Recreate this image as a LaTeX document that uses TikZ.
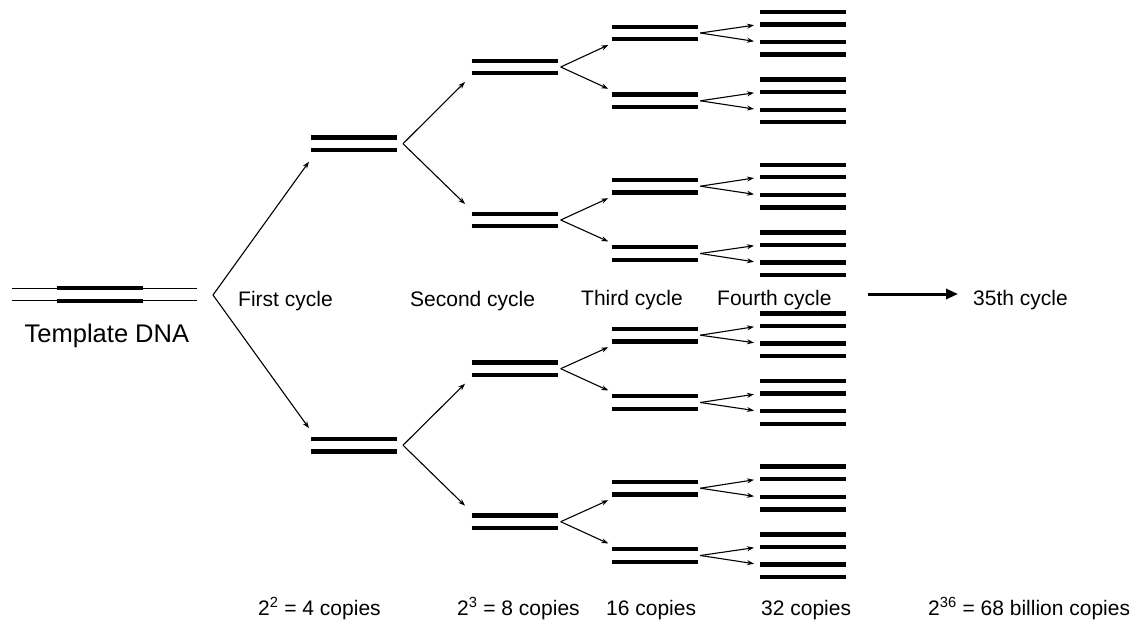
\documentclass[tikz,border=0pt]{standalone}
\usepackage{fontspec}
\setmainfont{Liberation Sans}
\usetikzlibrary{arrows.meta,calc}
\tikzset{
  pair/.style={minimum width=86pt, minimum height=12.5pt, inner sep=0pt, outer sep=0pt},
  bar/.style={line width=4.4pt},
  thinstrand/.style={line width=1.3pt},
  fork/.style={line width=1.1pt, -{Stealth[length=7pt,width=5pt]}},
  lbl/.style={anchor=base west, inner sep=0pt, font=\fontsize{21}{25}\selectfont},
  bigarrow/.style={line width=3pt, -{Triangle[length=12pt,width=10pt]}}
}
\newcommand\dnapair[2]{\node[pair] (#1) at (#2) {};
  \draw[bar] (#1.north west) -- (#1.north east) (#1.south west) -- (#1.south east);}
\begin{document}
\begin{tikzpicture}[x=1pt,y=-1pt]
\useasboundingbox (0,0) rectangle (1134,623);
% template
\dnapair{t}{99.5,294.5}
\draw[thinstrand] ($(t.north west)+(-45,0)$) -- ($(t.north east)+(54,0)$);
\draw[thinstrand] ($(t.south west)+(-45,0)$) -- ($(t.south east)+(54,0)$);
\node[anchor=base west, inner sep=0pt, font=\fontsize{25.5}{30}\selectfont] (tl) at (24.5,342.5) {Template DNA};
% first cycle
\dnapair{a1}{354,143.7}
\dnapair{a2}{354,445.2}
% second cycle
\foreach \y [count=\i] in {67,220,368.7,521.7} {\dnapair{b\i}{514.7,\y}}
% third cycle
\foreach \y [count=\i] in {33,100.8,186.2,253.5,335.2,402.5,488.2,555.5} {\dnapair{c\i}{655.3,\y}}
% fourth cycle
\foreach \y [count=\i] in {18.2,48.3,85.8,116,171,201.3,238.7,268.8,319.8,349.7,387.3,417.5,472.8,503.3,540.7,570.7} {\dnapair{d\i}{803,\y}}
% forks
\coordinate (tv) at (213,295);
\draw[fork] (tv) -- ($(a1.west)+(-2,18)$);
\draw[fork] (tv) -- ($(a2.west)+(-2,-17)$);
\foreach \i in {1,2} {
  \pgfmathtruncatemacro\u{2*\i-1}\pgfmathtruncatemacro\l{2*\i}
  \coordinate (av\i) at ($(a\i.east)+(6,0)$);
  \draw[fork] (av\i) -- ($(b\u.west)+(-6.7,15)$);
  \draw[fork] (av\i) -- ($(b\l.west)+(-6.7,-16)$);
}
\foreach \i in {1,...,4} {
  \pgfmathtruncatemacro\u{2*\i-1}\pgfmathtruncatemacro\l{2*\i}
  \coordinate (bv\i) at ($(b\i.east)+(3,0)$);
  \draw[fork] (bv\i) -- ($(c\u.west)+(-4,12)$);
  \draw[fork] (bv\i) -- ($(c\l.west)+(-4,-12)$);
}
\foreach \i in {1,...,8} {
  \pgfmathtruncatemacro\u{2*\i-1}\pgfmathtruncatemacro\l{2*\i}
  \coordinate (cv\i) at ($(c\i.east)+(2,0)$);
  \draw[fork] (cv\i) -- ($(d\u.west)+(-6,7)$);
  \draw[fork] (cv\i) -- ($(d\l.west)+(-6,-7)$);
}
% big arrow
\coordinate (bs) at (868,294);
\coordinate (be) at (958,294);
\draw[bigarrow] (bs) -- (be);
% cycle labels
\node[lbl] (l1) at (238,306.5) {First cycle};
\node[lbl] (l2) at (410,306.5) {Second cycle};
\node[lbl] (l3) at (581,305.5) {Third cycle};
\node[lbl] (l4) at (717,305.5) {Fourth cycle};
\node[lbl] (l5) at (973,305.5) {35th cycle};
% copies labels
\node[lbl] (k1) at (258,615) {2\textsuperscript{2} = 4 copies};
\node[lbl] (k2) at (457,615) {2\textsuperscript{3} = 8 copies};
\node[lbl] (k3) at (606,615) {16 copies};
\node[lbl] (k4) at (761,615) {32 copies};
\node[lbl] (k5) at (928,615) {2\textsuperscript{36} = 68 billion copies};
\end{tikzpicture}
\end{document}
